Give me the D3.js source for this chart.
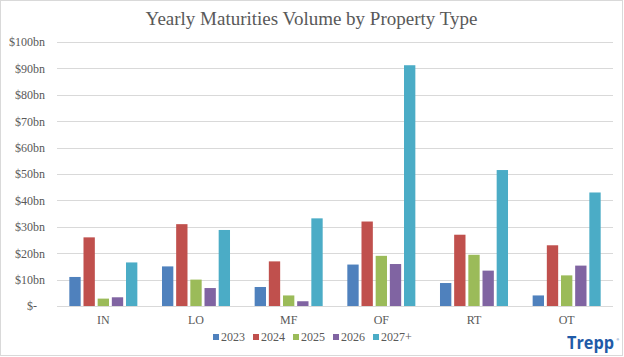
<!DOCTYPE html>
<html><head><meta charset="utf-8">
<script src="https://cdn.jsdelivr.net/npm/d3@7"></script>
<style>html,body{margin:0;padding:0;background:#fff;}svg{display:block;}</style>
</head><body>
<svg id="chart" width="624" height="357"></svg>
<script>
const categories = ["IN","LO","MF","OF","RT","OT"];
const seriesNames = ["2023","2024","2025","2026","2027+"];
const v2023 = [11, 15, 7.2, 15.7, 8.7, 4.0];
const v2024 = [26, 31, 16.9, 32, 27, 23];
const v2025 = [2.8, 10, 4.0, 19, 19.4, 11.6];
const v2026 = [3.3, 6.8, 1.8, 15.9, 13.4, 15.3];
const v2027 = [16.5, 28.8, 33.2, 91.2, 51.5, 43];
const yTicks = [0,10,20,30,40,50,60,70,80,90,100];
const colors = ["#4F81BD","#C0504D","#9BBB59","#8064A2","#4BACC6"];
const seriesValues = [v2023, v2024, v2025, v2026, v2027];

const svg = d3.select("#chart");
const W = 624, H = 357;
const m = {left:57, right:11, top:42, bottom:51};

svg.append("rect").attr("x",0.5).attr("y",0.5).attr("width",W-2).attr("height",H-2)
  .attr("fill","#fff").attr("stroke","#D9D9D9");

const x0 = d3.scaleBand().domain(categories).range([m.left, W-m.right]).paddingInner(0.266).paddingOuter(0.133);
const x1 = d3.scaleBand().domain(seriesNames).range([0, x0.bandwidth()]).paddingInner(0.2);
const y = d3.scaleLinear().domain([0,100]).range([H-m.bottom, m.top]);

const serif = "'Liberation Serif','Times New Roman',serif";

// gridlines
svg.append("g").selectAll("line").data(yTicks).join("line")
  .attr("x1", m.left).attr("x2", W-m.right)
  .attr("y1", d=>Math.round(y(d))+0.5).attr("y2", d=>Math.round(y(d))+0.5)
  .attr("stroke","#D9D9D9").attr("stroke-width",1);

// y axis labels
const yAxis = d3.axisLeft(y).tickValues(yTicks).tickSize(0).tickPadding(8)
  .tickFormat(d => d===0 ? "$-" : "$"+d+"bn");
const ya = svg.append("g").attr("transform",`translate(${m.left-4},0)`).call(yAxis);
ya.select(".domain").remove();
ya.selectAll("text").attr("font-family",serif).attr("font-size",12).attr("fill","#595959");
ya.selectAll(".tick").filter(d=>d===0).select("text").attr("dx",-8);

// bars
const data = categories.map((c,i)=>({cat:c, vals: seriesNames.map((s,j)=>({s, v:seriesValues[j][i], j}))}));
svg.append("g").selectAll("g").data(data).join("g")
  .attr("transform", d=>`translate(${x0(d.cat)},0)`)
  .selectAll("rect").data(d=>d.vals).join("rect")
  .attr("x", d=>x1(d.s)).attr("width", x1.bandwidth())
  .attr("y", d=>y(d.v)).attr("height", d=>y(0)-y(d.v))
  .attr("fill", d=>colors[d.j]);

// x axis
const xAxis = d3.axisBottom(x0).tickSize(0).tickPadding(9);
const xa = svg.append("g").attr("transform",`translate(0,${y(0)})`).call(xAxis);
xa.select(".domain").remove();
xa.selectAll("text").attr("font-family",serif).attr("font-size",12).attr("fill","#595959");

// title
svg.append("text").attr("x",311.5).attr("y",25).attr("text-anchor","middle")
  .attr("font-family",serif).attr("font-size",19).attr("fill","#595959")
  .text("Yearly Maturities Volume by Property Type");

// legend
const leg = svg.append("g").selectAll("g").data(seriesNames).join("g")
  .attr("transform",(d,i)=>`translate(${213 + i*40},341)`);
leg.append("rect").attr("x",0).attr("y",-7).attr("width",6).attr("height",6).attr("fill",(d,i)=>colors[i]);
leg.append("text").attr("x",8).attr("y",0).attr("font-family",serif).attr("font-size",12).attr("fill","#595959").text(d=>d);

// logo
svg.append("text").attr("x",567).attr("y",348.5).attr("font-family","'Open Sans',Arial,sans-serif")
  .attr("font-weight",700).attr("font-size",17).attr("fill","#1F5BA8")
  .attr("textLength",47).attr("lengthAdjust","spacingAndGlyphs").text("Trepp");
svg.append("text").attr("x",616.5).attr("y",341).attr("font-family","Arial,sans-serif")
  .attr("font-size",3.5).attr("fill","#1F5BA8").text("®");
</script>
</body></html>
